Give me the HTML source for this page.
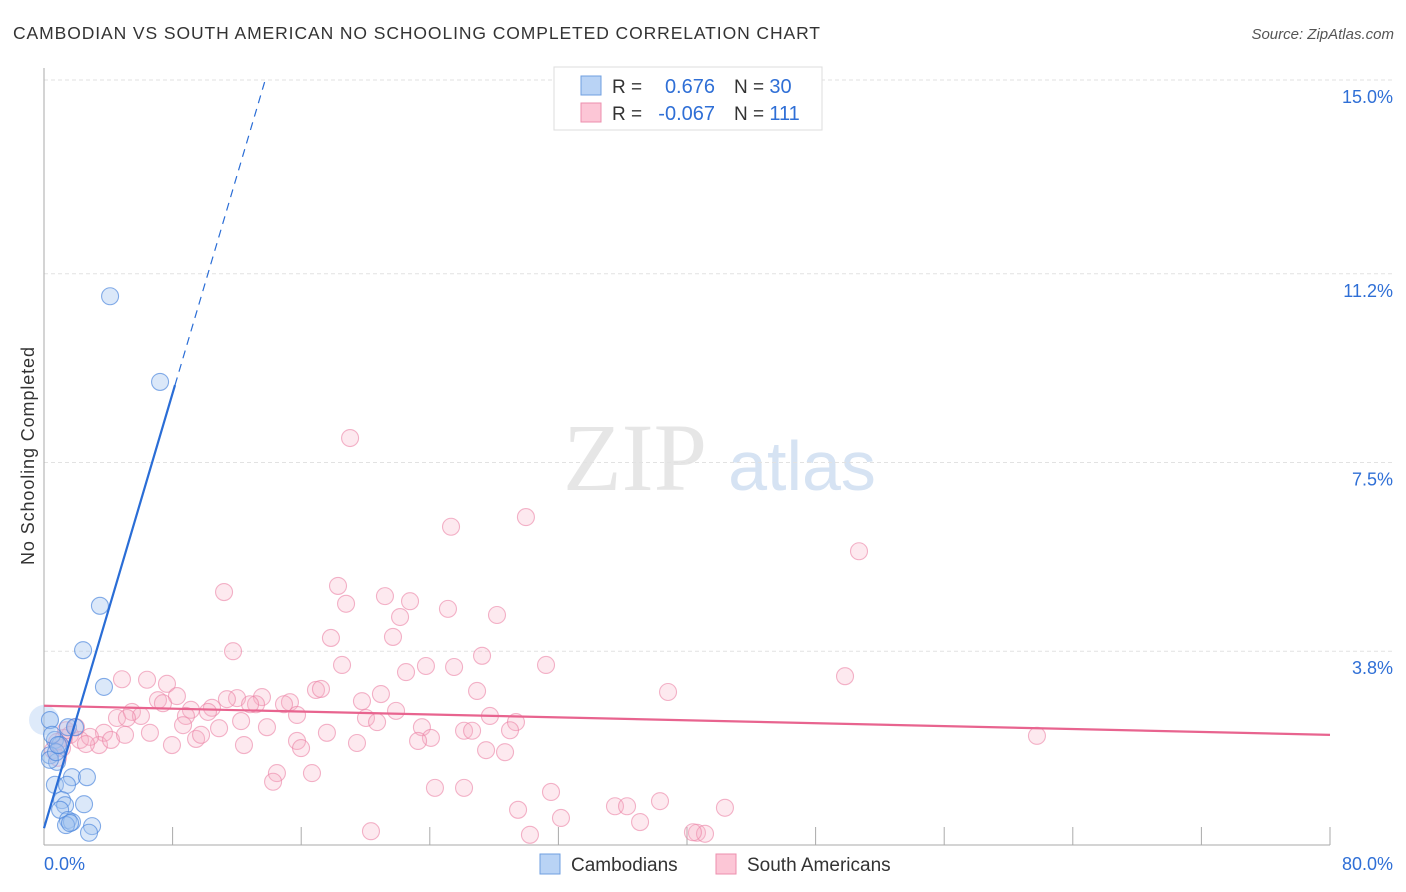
<!DOCTYPE html>
<html><head><meta charset="utf-8"><style>
body{margin:0;background:#fff;font-family:"Liberation Sans",sans-serif;}
svg{display:block}
</style></head><body>
<svg id="chart" width="1406" height="892" viewBox="0 0 1406 892" xmlns="http://www.w3.org/2000/svg">
<text x="13" y="39" font-size="17.5" fill="#333" textLength="807" lengthAdjust="spacing">CAMBODIAN VS SOUTH AMERICAN NO SCHOOLING COMPLETED CORRELATION CHART</text>
<text x="1394" y="39" font-size="15" fill="#555" font-style="italic" text-anchor="end">Source: ZipAtlas.com</text>
<g>
<text x="635" y="490" font-family="Liberation Serif" font-size="96" fill="#e6e6e6" text-anchor="middle">ZIP</text>
<text x="802" y="490" font-size="70" fill="#d6e3f3" text-anchor="middle">atlas</text>
</g>
<g id="grid"></g>
<g id="axes"></g>
<g id="pts"></g>
<g id="trends"></g>
<text transform="translate(34,456) rotate(-90)" font-size="18" fill="#333" text-anchor="middle" textLength="218" lengthAdjust="spacing">No Schooling Completed</text>
<g>
<rect x="554" y="67" width="268" height="63" fill="#fff" stroke="#ddd"/>
<rect x="581" y="76" width="20" height="19" fill="#b9d3f5" stroke="#6f9fe0"/>
<rect x="581" y="103" width="20" height="19" fill="#fcc6d6" stroke="#ec8fae"/>
<text x="612" y="93" font-size="19" fill="#333">R =</text>
<text x="715" y="93" font-size="20" fill="#2f6fd6" text-anchor="end">0.676</text>
<text x="734" y="93" font-size="19" fill="#333">N = <tspan fill="#2f6fd6" font-size="20">30</tspan></text>
<text x="612" y="120" font-size="19" fill="#333">R =</text>
<text x="715" y="120" font-size="20" fill="#2f6fd6" text-anchor="end">-0.067</text>
<text x="734" y="120" font-size="19" fill="#333">N = <tspan fill="#2f6fd6" font-size="20">111</tspan></text>
</g>
<g>
<rect x="540" y="854" width="20" height="20" fill="#b9d3f5" stroke="#6f9fe0"/>
<text x="571" y="871" font-size="19" fill="#333">Cambodians</text>
<rect x="716" y="854" width="20" height="20" fill="#fcc6d6" stroke="#ec8fae"/>
<text x="747" y="871" font-size="19" fill="#333">South Americans</text>
</g>
</svg>
<script>
const yTicks=[3.8,7.5,11.2,15.0];
const yTickLabels=["3.8%","7.5%","11.2%","15.0%"];
const xTickLabels=["0.0%","80.0%"];
const camX=[4.11,7.22,3.48,2.43,3.73,0.37,1.49,1.93,0.68,1.00,0.37,0.81,1.74,2.67,0.68,1.43,1.12,1.31,2.49,1.00,1.49,1.74,1.37,2.99,2.80,0.37,0.75,0.50,0.87,1.62];
const camY=[10.76,9.08,4.69,3.82,3.10,2.45,2.31,2.31,2.06,1.96,1.76,1.63,1.33,1.33,1.18,1.18,0.88,0.78,0.80,0.69,0.49,0.45,0.39,0.37,0.24,1.67,1.82,2.16,1.96,0.43];
const saX=[19.04,25.32,29.98,50.70,11.20,18.29,18.79,21.21,22.77,22.15,25.13,28.18,17.85,21.71,11.76,27.25,18.54,22.52,23.76,25.51,31.23,49.83,4.85,6.41,7.65,8.27,7.09,7.40,12.01,11.38,13.56,13.19,15.30,14.93,16.92,17.23,20.96,19.78,26.94,38.82,4.54,5.47,6.03,5.16,9.14,8.83,10.45,10.20,12.82,12.26,13.87,15.74,20.03,20.72,21.90,27.74,29.36,28.99,8.65,10.89,17.60,23.51,24.07,26.13,26.63,3.73,3.42,4.17,1.99,1.62,2.24,2.86,1.24,0.81,0.56,1.12,9.46,9.77,12.44,15.74,15.99,19.47,23.27,7.96,27.50,28.68,61.77,14.49,16.67,14.25,24.32,26.13,31.54,38.32,29.49,32.16,35.52,36.27,42.36,37.08,20.34,30.23,40.62,41.12,40.37,0.87,1.37,2.61,6.59,5.04];
const saY=[7.98,6.24,6.43,5.76,4.96,5.08,4.73,4.88,4.78,4.47,4.63,4.51,4.06,4.08,3.80,3.71,3.53,3.39,3.51,3.49,3.53,3.31,3.25,3.24,3.16,2.92,2.84,2.78,2.88,2.86,2.90,2.76,2.80,2.76,3.04,3.06,2.96,2.82,3.02,3.00,2.49,2.61,2.53,2.49,2.65,2.53,2.69,2.61,2.76,2.43,2.31,2.55,2.49,2.41,2.63,2.53,2.41,2.25,2.35,2.29,2.20,2.31,2.10,2.24,2.24,2.20,1.96,2.06,2.31,2.16,2.06,2.12,2.10,2.02,1.86,1.90,2.08,2.16,1.96,2.04,1.90,2.00,2.04,1.96,1.86,1.82,2.14,1.41,1.41,1.24,1.12,1.12,1.04,0.86,0.69,0.53,0.76,0.76,0.73,0.45,0.27,0.20,0.24,0.22,0.25,1.71,2.25,1.98,2.20,2.16];
const camTrend=[0.33,1.066]; // intercept, slope
const saTrend=[2.73,2.16]; // value at 0%, value at 80%
const bigBubble=[0.0,2.45];

const NS="http://www.w3.org/2000/svg";
const X0=44,X1=1330,Y0=845;
const sx=v=>X0+(v/80)*(X1-X0);
const sy=v=>Y0-v*51;
function mk(tag,attrs,parent){const e=document.createElementNS(NS,tag);for(const k in attrs)e.setAttribute(k,attrs[k]);document.getElementById(parent).appendChild(e);return e;}

yTicks.forEach((t,i)=>{
  const g=mk('line',{x1:X0,x2:1394,y1:sy(t),y2:sy(t),stroke:'#e2e2e2','stroke-dasharray':'4,3'},'grid');
  
  
  const l=mk('text',{x:1393,y:sy(t)+23,'font-size':18,fill:'#2f6fd6','text-anchor':'end'},'grid');
  l.textContent=yTickLabels[i];
  
  
});
let a=mk('line',{x1:X0,x2:X0,y1:68,y2:Y0,stroke:'#aaa'},'axes');


a=mk('line',{x1:X0,x2:X1,y1:Y0,y2:Y0,stroke:'#aaa'},'axes');


for(let i=1;i<=10;i++){
  const t=mk('line',{x1:sx(i*8),x2:sx(i*8),y1:Y0-18,y2:Y0,stroke:'#aaa'},'axes');
  
  
}
let xl=mk('text',{x:X0,y:870,'font-size':18,fill:'#2f6fd6'},'axes');xl.textContent=xTickLabels[0];


xl=mk('text',{x:1393,y:870,'font-size':18,fill:'#2f6fd6','text-anchor':'end'},'axes');xl.textContent=xTickLabels[1];



const bb=mk('circle',{cx:sx(bigBubble[0]),cy:sy(bigBubble[1]),r:15,fill:'rgba(160,195,240,0.35)',stroke:'none'},'pts');


saX.forEach((v,i)=>{
  const c=mk('circle',{cx:sx(v),cy:sy(saY[i]),r:8.5,fill:'rgba(248,175,198,0.28)',stroke:'rgba(235,130,165,0.6)','stroke-width':1.1},'pts');
  
  
});
camX.forEach((v,i)=>{
  const c=mk('circle',{cx:sx(v),cy:sy(camY[i]),r:8.5,fill:'rgba(160,195,240,0.38)',stroke:'rgba(70,130,220,0.65)','stroke-width':1.1},'pts');
  
  
});
const solidEnd=8.15, dashEnd=(15.04-camTrend[0])/camTrend[1];
let tl=mk('line',{x1:sx(0),y1:sy(camTrend[0]),x2:sx(solidEnd),y2:sy(camTrend[0]+camTrend[1]*solidEnd),stroke:'#2a6dd6','stroke-width':2.2},'trends');


tl=mk('line',{x1:sx(solidEnd),y1:sy(camTrend[0]+camTrend[1]*solidEnd),x2:sx(dashEnd),y2:sy(camTrend[0]+camTrend[1]*dashEnd),stroke:'#2a6dd6','stroke-width':1.2,'stroke-dasharray':'8,6'},'trends');


tl=mk('line',{x1:sx(0),y1:sy(saTrend[0]),x2:sx(80),y2:sy(saTrend[1]),stroke:'#e8648f','stroke-width':2.2},'trends');


</script>
</body></html>
